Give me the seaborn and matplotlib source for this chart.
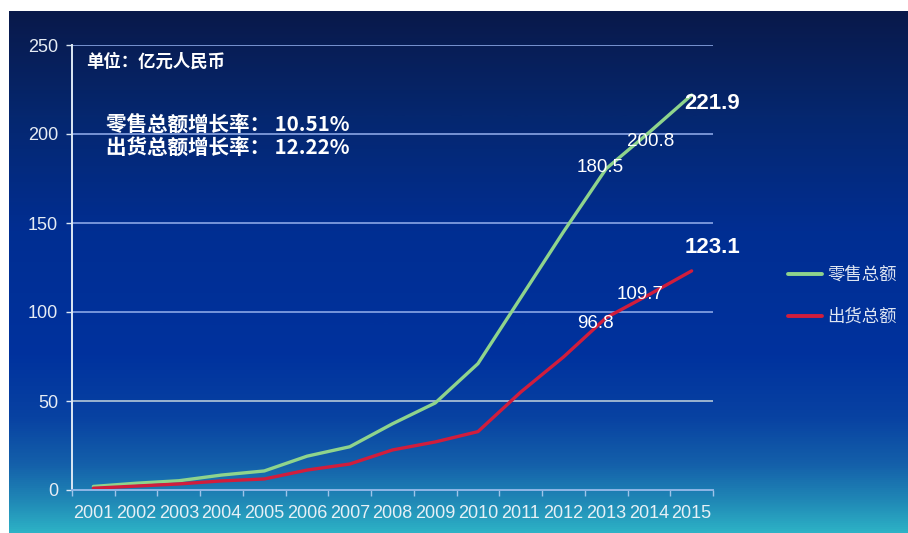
import numpy as np
import pandas as pd
import matplotlib
matplotlib.use("Agg")
import matplotlib.pyplot as plt
from matplotlib.colors import LinearSegmentedColormap
import seaborn as sns

# ---- data ----
years = ["2001", "2002", "2003", "2004", "2005", "2006", "2007", "2008",
         "2009", "2010", "2011", "2012", "2013", "2014", "2015"]
retail = [2.0, 3.8, 5.2, 8.4, 10.7, 19.0, 24.3, 37.2, 48.9, 71.0,
          108.0, 145.0, 180.5, 200.8, 221.9]
shipment = [1.0, 2.2, 3.4, 5.1, 6.2, 11.2, 14.6, 22.5, 27.0, 32.8,
            55.0, 74.7, 96.8, 109.7, 123.1]
series_names = ["零售总额", "出货总额"]
y_ticks = [0, 50, 100, 150, 200, 250]
unit_text = "单位：亿元人民币"
growth_texts = ["零售总额增长率： 10.51%", "出货总额增长率： 12.22%"]

df = pd.DataFrame({
    "年份": years * 2,
    "金额": retail + shipment,
    "系列": [series_names[0]] * len(years) + [series_names[1]] * len(years),
})

sns.set_theme(style="white")
plt.rcParams["font.family"] = ["Liberation Sans", "Noto Sans CJK SC", "DejaVu Sans"]
cjk = ["Noto Sans CJK SC", "DejaVu Sans"]

W, H = 908, 533
fig = plt.figure(figsize=(W / 100, H / 100), dpi=100, facecolor="white")

# gradient backdrop
bg = fig.add_axes([9 / W, 0, 1 - 9 / W, 1 - 11 / H])
bg.set_axis_off()
cmap = LinearSegmentedColormap.from_list("bg", [
    (0.00, "#09194a"),
    (0.20, "#05276f"),
    (0.42, "#012e92"),
    (0.66, "#00329e"),
    (0.78, "#0842a2"),
    (0.87, "#1460aa"),
    (0.94, "#2088b6"),
    (1.00, "#2db2c6"),
])
grad = np.linspace(0, 1, 512).reshape(-1, 1)
bg.imshow(grad, aspect="auto", cmap=cmap, extent=[0, 1, 0, 1], origin="upper")
bg.set_xlim(0, 1)
bg.set_ylim(0, 1)

ax = fig.add_axes([72 / W, 1 - 490 / H, (713 - 72) / W, (490 - 45) / H])
ax.set_facecolor("none")

palette = {series_names[0]: "#8fd48c", series_names[1]: "#d11d3c"}
sns.lineplot(data=df, x="年份", y="金额", hue="系列", palette=palette,
             linewidth=2.4, ax=ax, legend=False, sort=False)

ax.set_xlim(-0.5, len(years) - 0.5)
ax.set_ylim(0, 250)
ax.set_xlabel("")
ax.set_ylabel("")

# grid
for v in y_ticks[1:]:
    ax.axhline(v, color="#8aa6e6" if v != 50 else "#b4c8d8", lw=1.2, zorder=0)

for side in ["top", "right"]:
    ax.spines[side].set_visible(False)
ax.spines["left"].set_color("#dce8f4")
ax.spines["left"].set_linewidth(1.4)
ax.spines["bottom"].set_color("#8fb6e6")
ax.spines["bottom"].set_linewidth(1.4)

ax.set_yticks(y_ticks)
ax.set_yticklabels([str(v) for v in y_ticks])
ax.tick_params(axis="y", length=4, width=1, color="#dce8f4", pad=6,
               labelsize=13, labelcolor="#e6ecf4", left=True)
ax.set_xticks(range(len(years)))
ax.set_xticklabels(years)
ax.tick_params(axis="x", which="major", length=0, pad=11, labelsize=13,
               labelcolor="#e6f0f6")
ax.set_xticks(np.arange(-0.5, len(years), 1.0), minor=True)
ax.tick_params(axis="x", which="minor", length=4, width=1, color="#9fc4ea",
               direction="out", bottom=True)

# value labels
idx13, idx14, idx15 = 12, 13, 14
label_style = dict(color="white", fontsize=13.5, ha="center", va="center",
                   textcoords="offset points")
ax.annotate(f"{retail[idx13]}", (idx13, retail[idx13]), xytext=(-4, 1), **label_style)
ax.annotate(f"{retail[idx14]}", (idx14, retail[idx14]), xytext=(1.5, -6.5), **label_style)
ax.annotate(f"{retail[idx15]}", (idx15, retail[idx15]), xytext=(15, -6),
            color="white", fontsize=16, fontweight="bold", ha="center",
            va="center", textcoords="offset points")
ax.annotate(f"{shipment[idx13]}", (idx13, shipment[idx13]), xytext=(-8, -4), **label_style)
ax.annotate(f"{shipment[idx14]}", (idx14, shipment[idx14]), xytext=(-6, 0), **label_style)
ax.annotate(f"{shipment[idx15]}", (idx15, shipment[idx15]), xytext=(15, 17),
            color="white", fontsize=16, fontweight="bold", ha="center",
            va="center", textcoords="offset points")

# notes
fig.text(86 / W, 1 - 62 / H, unit_text, color="white", fontsize=12.5,
         fontweight="bold", family=cjk, ha="left", va="center")
fig.text(106 / W, 1 - 124 / H, growth_texts[0], color="white", fontsize=14.8,
         fontweight="bold", family=cjk, ha="left", va="center")
fig.text(106 / W, 1 - 148 / H, growth_texts[1], color="white", fontsize=14.8,
         fontweight="bold", family=cjk, ha="left", va="center")

# legend
handles = [plt.Line2D([], [], color=palette[n], lw=2.8) for n in series_names]
leg = fig.legend(handles, series_names, loc="upper left",
                 bbox_to_anchor=(772 / W, 1 - 250 / H), frameon=False,
                 handlelength=2.0, handletextpad=0.3, labelspacing=1.4,
                 prop={"family": cjk, "size": 12.5})
for t in leg.get_texts():
    t.set_color("#dfe6f2")

fig.savefig("out.png", dpi=100, facecolor="white")
